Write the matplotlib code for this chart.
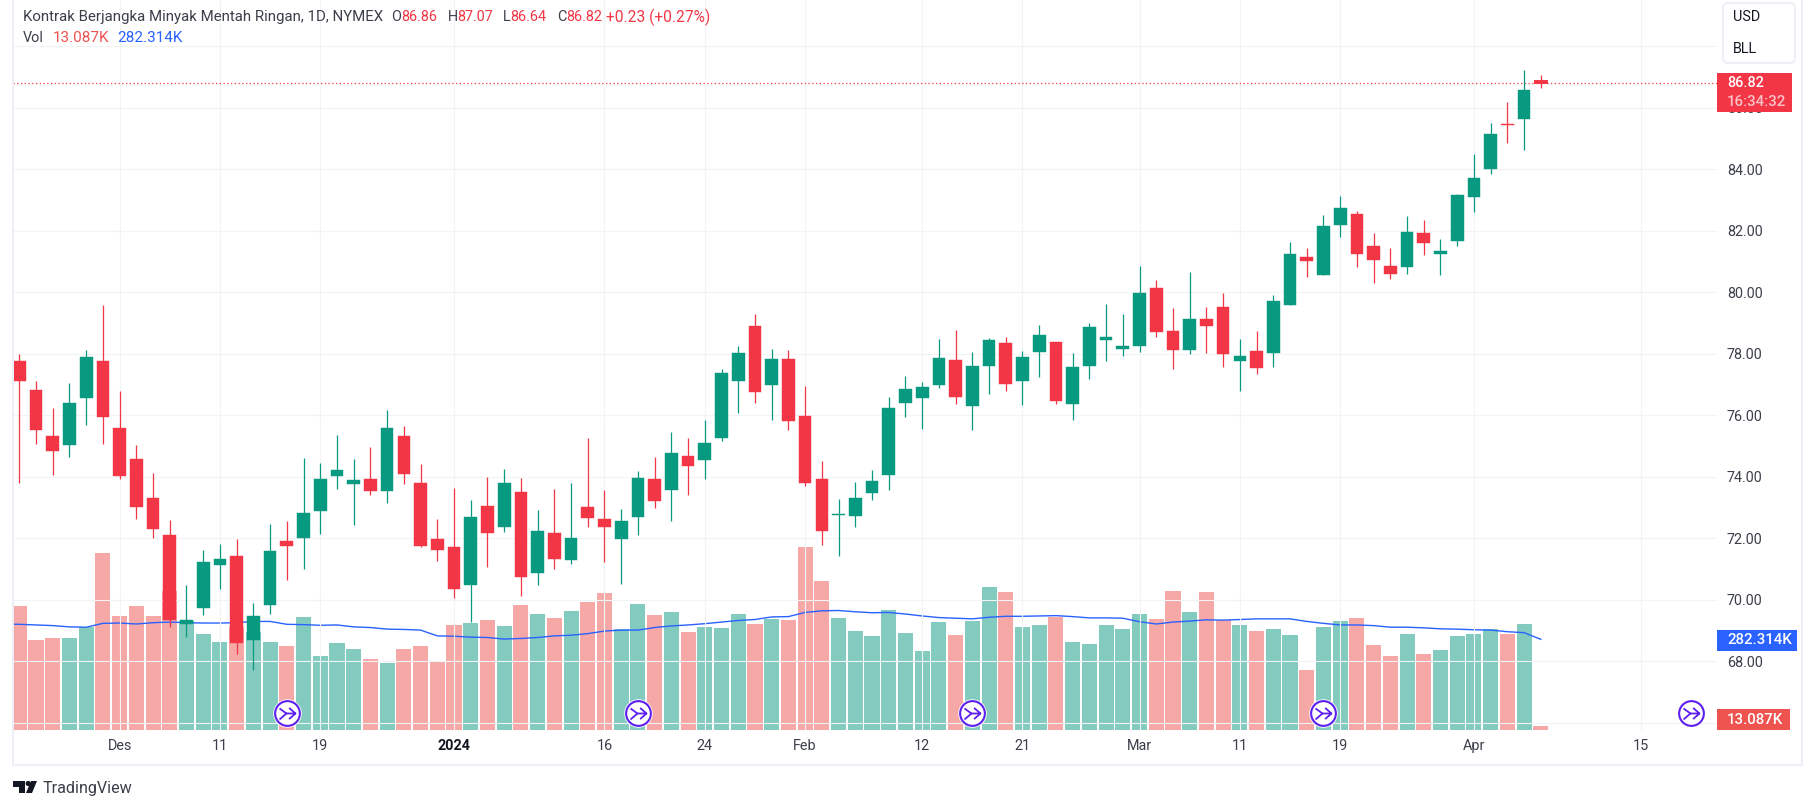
import matplotlib
matplotlib.use("Agg")
import matplotlib.pyplot as plt
from matplotlib.patches import Rectangle, FancyBboxPatch, Polygon, Circle
from matplotlib.path import Path

opens = [77.78,76.81,75.33,75.04,76.55,77.78,75.59,74.58,73.31,72.11,69.21,69.73,71.13,71.43,68.69,69.83,71.91,72.01,72.89,74.03,
         73.77,73.93,73.54,75.33,73.80,71.98,71.72,70.48,73.05,72.37,73.51,70.87,72.17,71.30,73.02,72.63,71.98,72.69,73.93,73.57,
         74.68,74.55,75.26,77.12,78.91,76.99,77.83,75.98,73.93,72.76,72.73,73.47,74.06,76.40,76.56,76.99,77.80,76.30,77.60,78.35,
         77.12,78.06,78.38,76.37,77.60,78.45,78.16,78.25,80.14,78.74,78.12,79.13,79.52,77.77,78.09,78.03,79.59,81.15,80.56,82.19,
         82.55,81.51,80.86,80.82,81.93,81.25,81.67,83.10,84.01,85.47,85.64,86.86]
highs = [77.98,77.10,76.24,77.04,78.11,79.60,76.78,75.04,74.12,72.60,70.48,71.62,71.82,71.98,69.90,72.47,72.56,74.61,74.45,75.36,
         74.58,74.97,76.17,75.65,74.42,72.63,73.64,73.25,73.99,74.25,73.96,72.92,73.60,73.80,75.26,73.57,72.95,74.19,74.65,75.46,
         75.26,75.85,77.51,78.25,79.30,78.16,78.12,76.95,74.51,73.28,73.83,74.22,76.60,77.28,77.08,78.48,78.78,78.07,78.51,78.55,
         78.09,78.94,78.38,78.02,79.00,79.62,79.30,80.86,80.40,79.49,80.66,79.52,79.98,78.48,78.74,79.91,81.64,81.44,82.51,83.13,
         82.64,81.93,81.44,82.48,82.35,81.73,83.20,84.50,85.51,86.19,87.23,87.07]
lows = [73.81,75.07,74.06,74.64,75.69,75.07,73.93,72.63,72.01,69.12,68.79,69.51,70.35,68.24,67.72,69.54,70.65,71.00,72.14,73.60,
        72.43,73.41,73.15,73.77,71.72,71.26,70.06,69.28,71.07,72.21,70.12,70.48,71.00,71.17,72.37,71.23,70.52,72.11,72.99,72.56,
        73.41,73.93,75.17,76.08,76.40,75.85,75.52,73.70,71.78,71.43,72.37,73.25,73.57,75.95,75.56,76.89,76.37,75.52,76.69,76.79,
        76.34,77.25,76.37,75.85,77.18,77.77,77.93,78.06,78.55,77.51,77.99,78.03,77.57,76.79,77.34,77.57,79.59,80.50,80.56,81.80,
        80.82,80.30,80.43,80.60,81.21,80.56,81.51,82.61,83.85,84.86,84.63,86.64]
closes = [77.10,75.52,74.84,76.40,77.88,75.96,74.03,73.02,72.30,69.34,69.34,71.23,71.33,68.60,69.47,71.59,71.75,72.82,73.93,74.22,
          73.90,73.54,75.59,74.09,71.75,71.62,70.35,72.69,72.17,73.80,70.74,72.24,71.33,72.01,72.66,72.37,72.56,73.96,73.21,74.78,
          74.35,75.10,77.38,78.03,76.76,77.83,75.82,73.80,72.24,72.79,73.31,73.86,76.24,76.86,76.92,77.86,76.60,77.60,78.45,77.02,
          77.90,78.61,76.47,77.57,78.87,78.55,78.25,79.98,78.71,78.12,79.13,78.91,77.99,77.93,77.54,79.72,81.25,81.02,82.16,82.74,
          81.25,81.05,80.60,81.96,81.60,81.34,83.17,83.72,85.15,85.44,86.58,86.82]
volumes = [386,280,286,286,321,551,355,386,355,433,338,299,274,321,305,274,261,352,230,271,
           252,221,209,252,261,215,327,333,342,324,389,361,349,370,398,426,314,392,358,367,
           305,321,317,361,330,346,342,570,464,349,308,293,374,302,246,336,296,339,445,430,
           321,327,352,274,268,327,314,361,346,433,367,430,342,327,308,314,296,187,321,339,
           349,265,230,299,237,249,293,299,314,300,330,13.087]
# moving average of volume; the first value belongs to the bar just left of the visible range
vol_ma = [330,329,327,325,321,320,332,333,330,334,336,334,333,333,334,338,338,329,328,326,327,
          321,319,314,313,311,293,292,289,288,283,285,288,293,295,300,308,311,311,319,324,
          327,331,336,341,344,352,353,366,371,372,368,365,366,361,355,350,348,346,351,354,
          354,355,356,353,349,349,348,337,330,336,339,343,342,344,346,346,346,338,332,327,
          327,325,320,320,318,315,314,312,311,306,303,282.314]
price_ticks = [66,68,70,72,74,76,78,80,82,84,86,88]
hidden_price_labels = [66,88]
date_ticks = [6,12,18,26,35,41,47,54,60,67,73,79,87,97]
date_labels = ["Des","11","19","2024","16","24","Feb","12","21","Mar","11","19","Apr","15"]
icon_bars = [16,37,57,78,100]

W, H = 1815, 809
FONT = ["Roboto", "DejaVu Sans"]
plt.rcParams["font.family"] = FONT
UP, DOWN = "#089981", "#f23645"
VUP, VDOWN = "#089981", "#ef5350"
GRID, BORDER = "#f2f3f5", "#eeeff6"
TXT = "#3b3f4a"

def fx(x): return x / W
def fy(y): return 1 - y / H

fig = plt.figure(figsize=(W / 100, H / 100), dpi=100, facecolor="white")
L, R, B = 13, 1717, 730
rect = [fx(L), fy(B), (R - L) / W, B / H]
ax_v = fig.add_axes(rect, zorder=1)
ax = fig.add_axes(rect, zorder=2)
ax.patch.set_visible(False)

x0, dx = 19.3, 16.72
xlim = ((L - x0) / dx, (R - x0) / dx)
pp = 30.75
ylim = (84 - (B - 169.3) / pp, 84 + 169.3 / pp)
n = len(closes)
xs = list(range(n))
for a in (ax, ax_v):
    a.set_xlim(*xlim)
    for s in a.spines.values():
        s.set_visible(False)
ax.set_ylim(*ylim)
ax_v.set_ylim(0, B * 3.113)
ax_v.set_xticks([]); ax_v.set_yticks([])

is_up = [c >= o for o, c in zip(opens, closes)]
ax_v.bar(xs, volumes, width=0.9, color=[VUP if u else VDOWN for u in is_up], alpha=0.5, linewidth=0)
ax.set_yticks(price_ticks)
ax.set_yticklabels(["" if p in hidden_price_labels else f"{p:.2f}" for p in price_ticks])
ax.set_xticks(date_ticks)
ax.set_xticklabels(date_labels)
ax.grid(True, color=GRID, linewidth=0.8, zorder=0)
ax.set_axisbelow(True)
ax.yaxis.tick_right()
ax.tick_params(axis="y", length=0, pad=7.2, labelsize=10.4, labelcolor=TXT)
ax.tick_params(axis="x", length=0, pad=6.5, labelsize=10.4, labelcolor=TXT)
for t in ax.get_xticklabels():
    if t.get_text() == "2024":
        t.set_fontweight("bold"); t.set_color("#131722")
ax_v.plot(range(-1, n), vol_ma, color="#2962ff", linewidth=1.0, zorder=3, solid_joinstyle="round")
colors = [UP if u else DOWN for u in is_up]
ax.vlines(xs, lows, highs, colors=colors, linewidth=0.9, zorder=3)
edge_w = [0.3] * (n - 1) + [1.4]
ax.bar(xs, [abs(c - o) for o, c in zip(opens, closes)], bottom=[min(o, c) for o, c in zip(opens, closes)],
       width=[0.76] * (n - 1) + [0.68], color=colors, edgecolor=colors, linewidth=edge_w, zorder=4)
ax.axhline(closes[-1], color=DOWN, linewidth=0.9, linestyle=(0, (1, 2)), zorder=2)

# corporate-action icons
icon = Path([(-0.6,0.38),(-0.08,0.0),(-0.6,-0.45),(0.12,0.42),(0.6,0.0),(0.12,-0.42),(-0.08,0.0),(0.6,0.0)],
            [Path.MOVETO,Path.LINETO,Path.LINETO,Path.MOVETO,Path.LINETO,Path.LINETO,Path.MOVETO,Path.LINETO])
purple = "#5d1fef"
iy = ylim[0] + (B - 713) / pp
ys = [iy] * len(icon_bars)
ax.plot(icon_bars[:-1], ys[:-1], linestyle="none", marker="o", ms=20.5, mfc="white", mec="none", zorder=5, clip_on=False)
ax.plot(icon_bars, ys, linestyle="none", marker="o", ms=17.8, mfc="white", mec=purple, mew=1.5, zorder=6, clip_on=False)
ax.plot(icon_bars, ys, linestyle="none", marker=icon, ms=11.5, mfc="none", mec=purple, mew=1.3, zorder=7, clip_on=False)

def ftext(x, y, s, **kw):
    kw.setdefault("fontsize", 10.4)
    kw.setdefault("color", TXT)
    kw.setdefault("va", "center")
    kw.setdefault("zorder", 12)
    fig.text(fx(x), fy(y), s, **kw)

def frect(x1, y1, x2, y2, color, z=10):
    fig.add_artist(Rectangle((fx(x1), fy(y2)), (x2 - x1) / W, (y2 - y1) / H, transform=fig.transFigure,
                             facecolor=color, edgecolor="none", zorder=z))

frect(11.5, 0, 13.5, 765, BORDER)
frect(11.5, 764, 1803, 766, BORDER)
frect(1801, 0, 1803, 766, BORDER)

R1, R2 = 17, 38
ftext(23, R1, "Kontrak Berjangka Minyak Mentah Ringan, 1D, NYMEX", fontsize=10.85)
for xl, lab, xv, val in [(391, "O", 401, "86.86"), (447.5, "H", 457, "87.07"), (503, "L", 510, "86.64"), (557, "C", 566, "86.82")]:
    ftext(xl, R1, lab)
    ftext(xv, R1, val, color=DOWN)
ftext(606, R1, "+0.23 (+0.27%)", color=DOWN, fontsize=11.2)
ftext(23, R2, "Vol")
ftext(53, R2, "13.087K", color=VDOWN, fontsize=11)
ftext(117, R2, "282.314K", color="#2962ff", fontsize=11)

frect(1717, 73, 1792, 112, DOWN)
ftext(1727, 83, "86.82", color="white", fontweight="medium")
ftext(1727, 102, "16:34:32", color="#fbc2c7", fontsize=10.8, fontweight="medium")
frect(1717, 630, 1797, 651, "#2962ff")
ftext(1727, 640.5, "282.314K", color="white", fontsize=10.8, fontweight="medium")
frect(1717, 709, 1790, 730, VDOWN)
ftext(1727, 719.5, "13.087K", color="white", fontsize=10.8, fontweight="medium")

fig.add_artist(FancyBboxPatch((1723, H - 63), 72, 60, boxstyle="round,pad=0,rounding_size=5",
                              transform=None, facecolor="white", edgecolor=BORDER, linewidth=1.4, zorder=10))
ftext(1733, 17, "USD", color="#131722")
ftext(1733, 49, "BLL", color="#131722")

def poly(pts):
    fig.add_artist(Polygon([(x, H - y) for x, y in pts], closed=True, transform=None, facecolor="#131722", edgecolor="none", zorder=11))
poly([(13, 781), (25, 781), (25, 793), (19, 793), (19, 787), (13, 787)])
poly([(31, 781), (37, 781), (32, 793), (26, 793)])
fig.add_artist(Circle((28.2, H - 783.5), 2.6, transform=None, facecolor="#131722", edgecolor="none", zorder=11))
ftext(43, 788, "TradingView", fontsize=11.6, color="#3b3f4a")

fig.savefig("out.png", dpi=100)
